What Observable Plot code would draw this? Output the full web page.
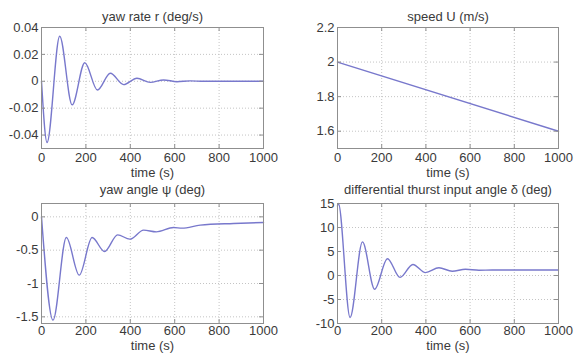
<!DOCTYPE html>
<html><head><meta charset="utf-8">
<script src="https://cdn.jsdelivr.net/npm/d3@7"></script>
<script src="https://cdn.jsdelivr.net/npm/@observablehq/plot@0.6"></script>
<style>
body{margin:0;background:#fff;}
#c{position:relative;width:579px;height:353px;overflow:hidden;background:#fff;}
#c svg{position:absolute;}
</style></head><body><div id="c"></div>
<script>
// ---- data ----
const timeTicks = [0, 200, 400, 600, 800, 1000];

const rTime   = [0, 25, 82, 138, 195, 252, 310, 370, 430, 490, 550, 610, 670, 730, 1000];
const rValues = [0, -0.0455, 0.0335, -0.0175, 0.0138, -0.0065, 0.006, -0.0025, 0.0023, -0.0008, 0.001, -0.0003, 0.0003, 0, 0];
const rTicks  = [-0.04, -0.02, 0, 0.02, 0.04];

const uTime   = [0, 1000];
const uValues = [2.0, 1.6];
const uTicks  = [1.6, 1.8, 2, 2.2];

const psiTime   = [0, 52, 112, 170, 228, 284, 343, 398, 460, 517, 595, 633, 715, 865, 1000];
const psiValues = [0, -1.55, -0.31, -0.875, -0.31, -0.52, -0.27, -0.335, -0.2, -0.225, -0.16, -0.17, -0.125, -0.1, -0.085];
const psiTicks  = [-1.5, -1, -0.5, 0];

const deltaTime   = [0, 4, 57, 113, 168, 226, 283, 341, 398, 459, 519, 579, 640, 700, 1000];
const deltaValues = [14.5, 15, -8.75, 7.0, -2.85, 3.5, -0.4, 2.3, 0.6, 1.6, 0.9, 1.3, 1.1, 1.15, 1.15];
const deltaTicks  = [-10, -5, 0, 5, 10, 15];

const titles = ["yaw rate r (deg/s)", "speed U (m/s)", "yaw angle \u03C8 (deg)", "differential thurst input angle \u03B4 (deg)"];
const xLabel = "time (s)";

// ---- drawing ----
const FONT = "'Liberation Sans', Arial, Helvetica, sans-serif";
const TXT = "#3a3a3a";
const container = document.getElementById("c");

function panel(o) {
  const data = o.t.map((t, i) => ({t, v: o.v[i]}));
  const fh = o.height - o.mT - o.mB;
  const fw = o.width - o.mL - o.mR;
  const svg = Plot.plot({
    width: o.width, height: o.height,
    marginLeft: o.mL, marginRight: o.mR, marginTop: o.mT, marginBottom: o.mB,
    style: {background: "transparent", overflow: "visible", fontFamily: FONT, fontSize: "13px", color: TXT},
    x: {domain: [0, 1000]},
    y: {domain: o.yDomain},
    marks: [
      Plot.gridX(timeTicks, {stroke: "#c4c4c4", strokeOpacity: 1, strokeDasharray: "1,2"}),
      Plot.gridY(o.yTicks, {stroke: "#c4c4c4", strokeOpacity: 1, strokeDasharray: "1,2"}),
      Plot.line(data, {x: "t", y: "v", stroke: "#7878cc", strokeWidth: 1.4, curve: "monotone-x"}),
      Plot.frame({stroke: "#8f8f8f", strokeWidth: 1}),
      Plot.tickX(timeTicks, {x: d => d, stroke: "#8f8f8f", insetTop: fh - 4}),
      Plot.tickX(timeTicks, {x: d => d, stroke: "#8f8f8f", insetBottom: fh - 4}),
      Plot.tickY(o.yTicks, {y: d => d, stroke: "#8f8f8f", insetRight: fw - 4}),
      Plot.tickY(o.yTicks, {y: d => d, stroke: "#8f8f8f", insetLeft: fw - 4}),
      Plot.axisX(timeTicks, {tickSize: 0, tickPadding: o.xPad, tickFormat: d => String(d), fontSize: 13, label: null}),
      Plot.axisY(o.yTicks, {tickSize: 0, tickPadding: 3, tickFormat: d => String(d), fontSize: 13, label: null}),
      Plot.text([o.title], {text: d => d, frameAnchor: "top", lineAnchor: "middle", dy: o.titleDy, fontSize: 13, fill: TXT}),
      Plot.text([xLabel], {text: d => d, frameAnchor: "bottom", lineAnchor: "middle", dy: o.xlDy, fontSize: 13, fill: TXT})
    ]
  });
  svg.style.left = o.left + "px";
  svg.style.top = o.top + "px";
  container.appendChild(svg);
}

panel({left: 0, top: 0, width: 290, height: 185, mL: 41, mR: 27, mT: 27, mB: 37,
  t: rTime, v: rValues, yDomain: [-0.05, 0.04], yTicks: rTicks, title: titles[0], titleDy: -11, xPad: 4, xlDy: 24});
panel({left: 290, top: 0, width: 289, height: 185, mL: 47, mR: 21, mT: 27, mB: 37,
  t: uTime, v: uValues, yDomain: [1.5, 2.2], yTicks: uTicks, title: titles[1], titleDy: -11, xPad: 4, xlDy: 24});
panel({left: 0, top: 176, width: 290, height: 177, mL: 41, mR: 27, mT: 27, mB: 30,
  t: psiTime, v: psiValues, yDomain: [-1.6, 0.2], yTicks: psiTicks, title: titles[2], titleDy: -14, xPad: 2, xlDy: 22});
panel({left: 290, top: 176, width: 289, height: 177, mL: 47, mR: 21, mT: 27, mB: 30,
  t: deltaTime, v: deltaValues, yDomain: [-10, 15], yTicks: deltaTicks, title: titles[3], titleDy: -14, xPad: 2, xlDy: 22});
</script></body></html>
